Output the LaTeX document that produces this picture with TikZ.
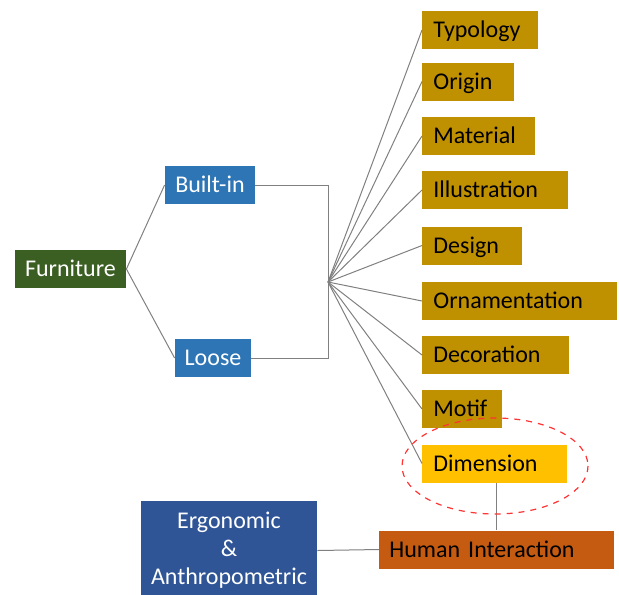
\documentclass[tikz,border=0pt]{standalone}
\usepackage{fontspec}
\setmainfont{Carlito}
\definecolor{leaf}{HTML}{3B5E22}
\definecolor{sky}{HTML}{2E75B6}
\definecolor{navy}{HTML}{2F5597}
\definecolor{gold}{HTML}{BF9000}
\definecolor{amber}{HTML}{FFC000}
\definecolor{rust}{HTML}{C55A11}
\begin{document}
\begin{tikzpicture}[x=0.5pt,y=-0.5pt,font=\fontsize{12}{14}\selectfont,
    box/.style={fill=#1,minimum height=19pt,inner ysep=0pt,inner xsep=5.5pt,text height=0.95em,text depth=0.2em},
    attr/.style={box=gold,anchor=west,align=left},
    link/.style={draw=gray,line width=0.5pt}]
        \useasboundingbox (0,0) rectangle (619,594);
        \node[box=leaf,inner xsep=2pt,text=white,minimum width=55.5pt] (furn) at (70.5,269){Furniture};
        \node[box=sky,inner xsep=2pt,text=white,minimum width=45pt] (built) at (210,185){Built-in};
        \node[box=sky,inner xsep=2pt,text=white,minimum width=38pt] (loose) at (213,358){Loose};
        \coordinate (hub) at (328,282);
        \node[attr,text width=47pt] (typ) at (422,30){Typology};
        \node[attr,text width=35pt] (ori) at (422,81.5){Origin};
        \node[attr,text width=45.5pt] (mat) at (422,136){Material};
        \node[attr,text width=62pt] (ill) at (422,190){Illustration};
        \node[attr,text width=39pt] (des) at (422,245.5){Design};
        \node[attr,text width=86.5pt] (orn) at (422,301){Ornamentation};
        \node[attr,text width=62.5pt] (dec) at (422,355){Decoration};
        \node[attr,text width=29pt] (mot) at (422,409){Motif};
        \node[attr,box=amber,text width=61.5pt] (dim) at (422,463.5){Dimension};
        \node[box=rust,anchor=west,inner xsep=5pt,text width=107.5pt,align=left] (hum) at (379,549.5){Human Interaction};
        \node[fill=navy,text=white,minimum width=88pt,minimum height=50pt,align=center] (ergo) at (229,550.5){Ergonomic\\\&\\Anthropometric};
        \draw[link] (furn.east) -- (built.west);
        \draw[link] (furn.east) -- (loose.west);
        \draw[link] (built.east) -- (hub |- built.east) -- (hub |- loose.east) -- (loose.east);
        \foreach \n in {typ,ori,mat,ill,des,orn,dec,mot,dim}
            \draw[link] (hub) -- (\n.west);
        \draw[link] (dim.south -| hum.north) -- (hum.north);
        \draw[link] (ergo.east) -- (hum.west);
        \draw[red!80,dashed,line width=0.6pt] (495,466) ellipse (93 and 48);
    \end{tikzpicture}
\end{document}
